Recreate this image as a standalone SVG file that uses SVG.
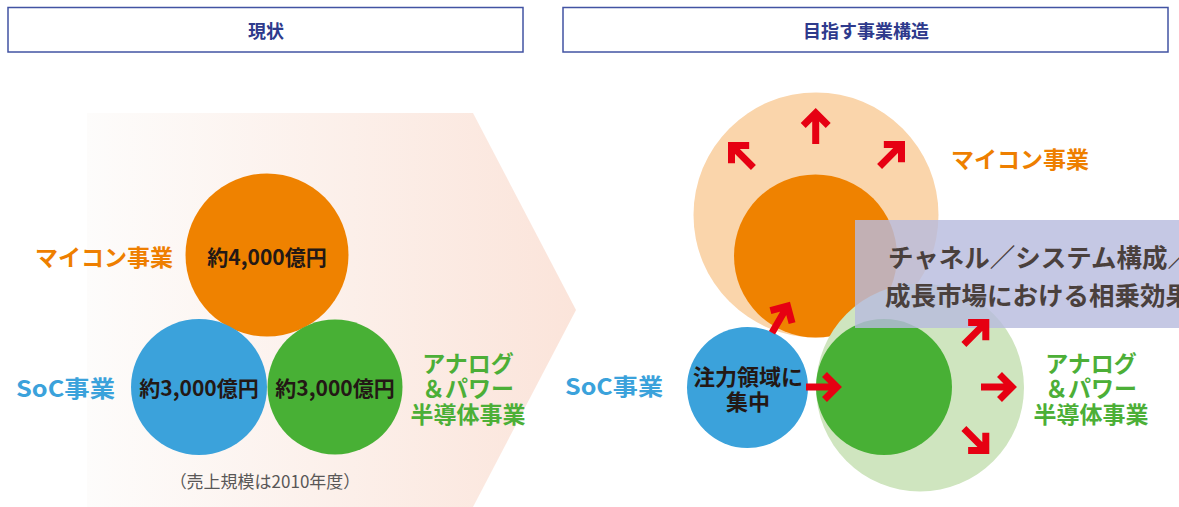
<svg xmlns="http://www.w3.org/2000/svg" xmlns:xlink="http://www.w3.org/1999/xlink" width="1179" height="507" viewBox="0 0 1179 507">
<style>
text{font-family:"Noto Sans CJK JP","Noto Sans",sans-serif;font-weight:bold;dominant-baseline:central}
.hdr{fill:#fff;stroke:#4253a3;stroke-width:1.5}
.htxt{font-size:18px;fill:#2e3a8c;text-anchor:middle}
.lbl{font-size:23px}
.in{font-size:22px}
.mid{text-anchor:middle}
.end{text-anchor:end}
.or{fill:#ee7f00}
.bl{fill:#3ba2db}
.gr{fill:#4caf37}
.dk{fill:#231815}
.amt{font-size:21px;fill:#231815;text-anchor:middle}
.note{font-size:17px;font-weight:normal;fill:#595757;text-anchor:middle}
.box{font-size:25.5px;fill:#4a403d}
.arr{fill:none;stroke:#e60012;stroke-width:7;stroke-linejoin:miter;stroke-miterlimit:10}
</style>
<defs>
<linearGradient id="chev" x1="87" y1="0" x2="576" y2="0" gradientUnits="userSpaceOnUse">
<stop offset="0" stop-color="#fdfcfb"/>
<stop offset="1" stop-color="#fbe4da"/>
</linearGradient>
<g id="arrow"><path class="arr" d="M-31,0H-3M-12.5,-12.5L0,0L-12.5,12.5"/></g>
</defs>

<g id="header-current">
<rect class="hdr" x="8" y="7.5" width="515" height="44.5"/>
<text class="htxt" x="266" y="30">現状</text>
</g>
<g id="header-target">
<rect class="hdr" x="563" y="7.5" width="605" height="44.5"/>
<text class="htxt" x="866" y="30">目指す事業構造</text>
</g>

<g id="chevron">
<path d="M87,113H473L576,310L473,507H87Z" fill="url(#chev)"/>
</g>

<g id="current-mcu">
<circle cx="267" cy="255" r="81.5" fill="#ef8200"/>
<text class="amt" x="267" y="256">約4,000億円</text>
<text class="lbl or end" x="173" y="256">マイコン事業</text>
</g>
<g id="current-soc">
<circle cx="199" cy="387" r="68" fill="#3ba2db"/>
<text class="amt" x="199" y="387">約3,000億円</text>
<text class="lbl bl" x="16" y="387" textLength="99" lengthAdjust="spacingAndGlyphs">SoC事業</text>
</g>
<g id="current-analog">
<circle cx="335" cy="387" r="67.5" fill="#48b035"/>
<text class="amt" x="335" y="387">約3,000億円</text>
<text class="lbl gr mid" x="468" y="362">アナログ</text>
<text class="lbl gr mid" x="468" y="387">＆パワー</text>
<text class="lbl gr mid" x="468" y="413">半導体事業</text>
</g>
<g id="note">
<text class="note" x="265" y="480">（売上規模は2010年度）</text>
</g>

<g id="target-mcu">
<circle cx="816" cy="215" r="122.5" fill="#fad5ab"/>
<circle cx="815.5" cy="256" r="81.5" fill="#ef8200"/>
<text class="lbl or mid" x="1020" y="158">マイコン事業</text>
</g>
<g id="target-analog">
<circle cx="920" cy="387.5" r="104" fill="#cfe5bf"/>
<circle cx="884" cy="387" r="68" fill="#48b035"/>
<text class="lbl gr mid" x="1091" y="362">アナログ</text>
<text class="lbl gr mid" x="1091" y="387">＆パワー</text>
<text class="lbl gr mid" x="1091" y="413">半導体事業</text>
</g>
<g id="target-soc">
<circle cx="747.5" cy="387.5" r="60.5" fill="#3ba2db"/>
<text class="in dk mid" x="748" y="375">注力領域に</text>
<text class="in dk mid" x="748" y="400">集中</text>
<text class="lbl bl" x="565" y="385" textLength="98" lengthAdjust="spacingAndGlyphs">SoC事業</text>
</g>
<g id="synergy">
<rect x="855" y="220" width="330" height="108" fill="#b7bbde" fill-opacity="0.81"/>
<text class="box" x="888" y="255">チャネル／システム構成／</text>
<text class="box" x="885" y="293">成長市場における相乗効果</text>
</g>

<g id="connectors">
<use xlink:href="#arrow" transform="translate(815.7,113) rotate(-90)"/>
<use xlink:href="#arrow" transform="translate(731.5,145.5) rotate(-135)"/>
<use xlink:href="#arrow" transform="translate(901.5,144.5) rotate(-45)"/>
<use xlink:href="#arrow" transform="translate(787.5,306) rotate(-60)"/>
<use xlink:href="#arrow" transform="translate(837,387)"/>
<use xlink:href="#arrow" transform="translate(985.8,322.5) rotate(-45)"/>
<use xlink:href="#arrow" transform="translate(1012,387)"/>
<use xlink:href="#arrow" transform="translate(985.8,450.5) rotate(45)"/>
</g>
</svg>
